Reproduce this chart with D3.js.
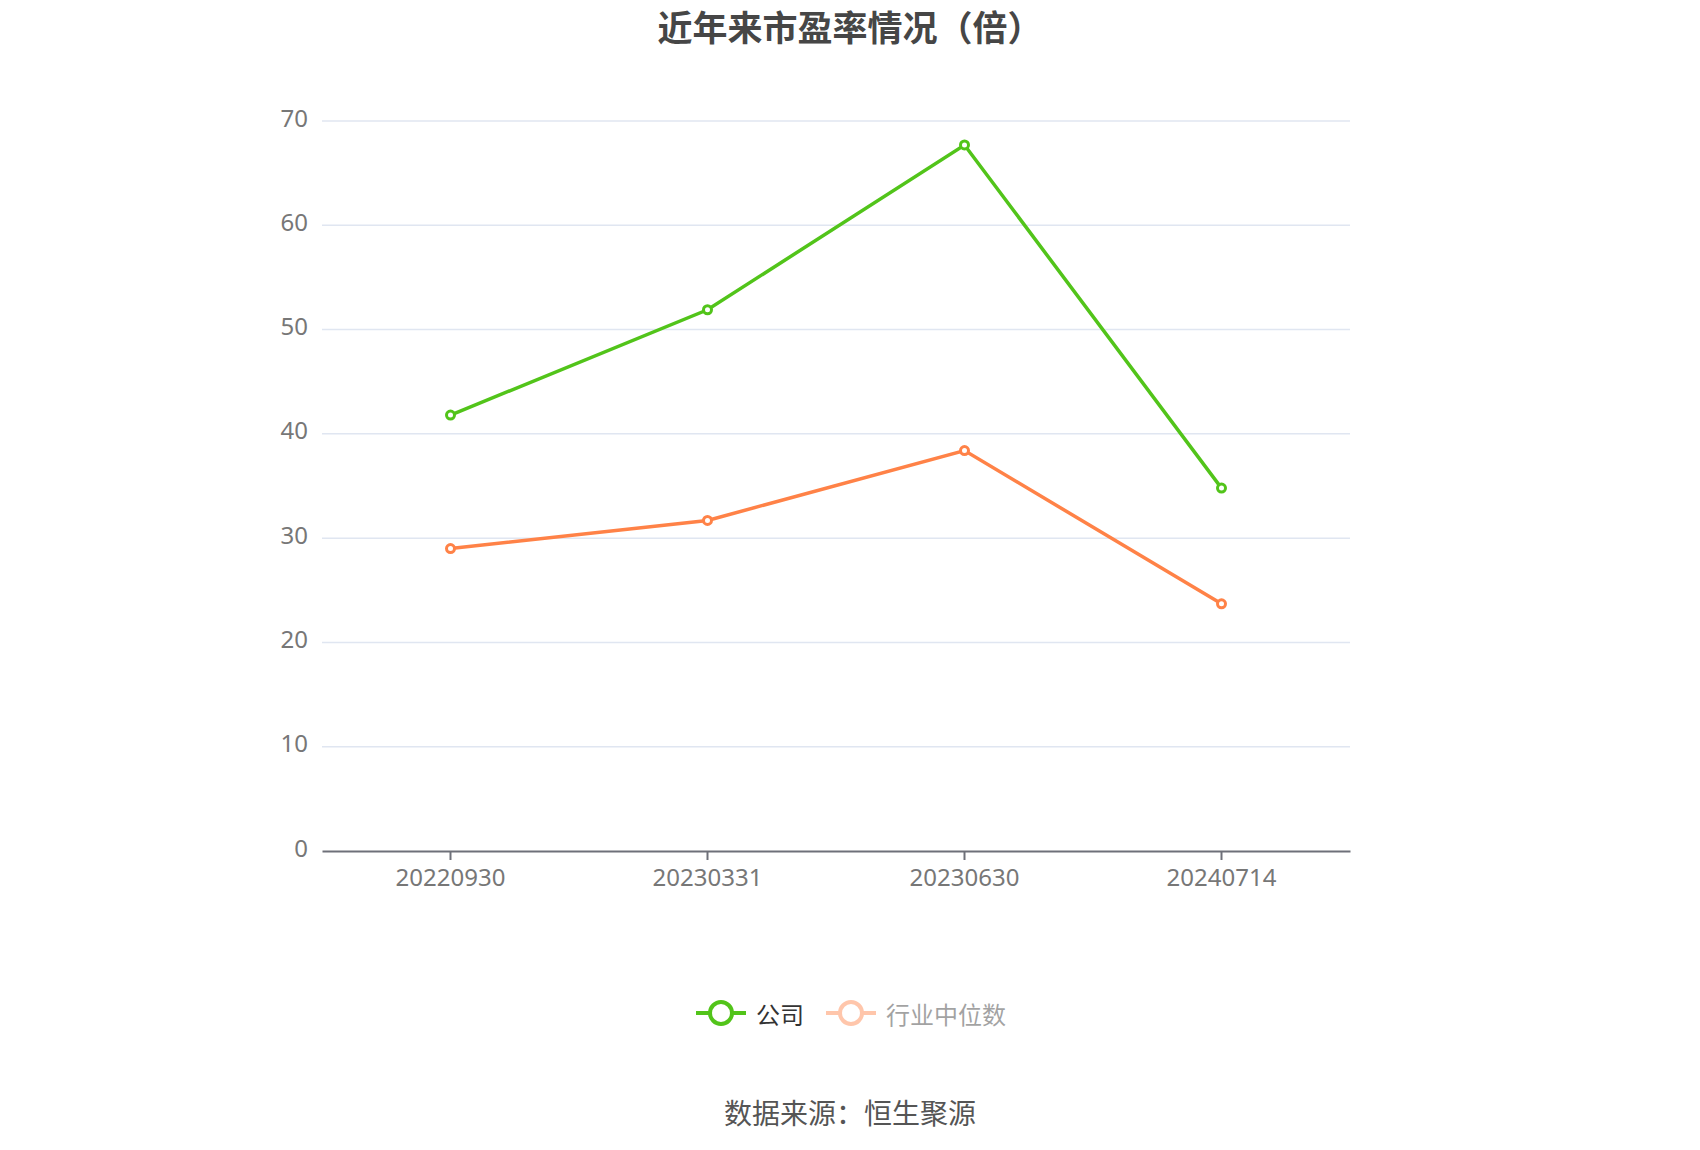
<!DOCTYPE html>
<html>
<head>
<meta charset="utf-8">
<script src="https://cdn.jsdelivr.net/npm/d3@7/dist/d3.min.js"></script>
<style>
  body { margin: 0; background: #fff; }
  svg { display: block; font-family: "Noto Sans", "Noto Sans CJK SC", sans-serif; }
</style>
</head>
<body>
<div id="chart"></div>
<script>
// data
const categories = ["20220930", "20230331", "20230630", "20240714"];
const companyPE = [41.8, 51.9, 67.7, 34.8];
const industryPE = [29.0, 31.7, 38.4, 23.7];
const yTicks = [0, 10, 20, 30, 40, 50, 60, 70];
const seriesNames = ["公司", "行业中位数"];

const width = 1700, height = 1150;
const margin = { left: 322, right: 350, top: 121, bottom: 299 };

const svg = d3.select("#chart").append("svg")
    .attr("width", width)
    .attr("height", height);

// title
svg.append("text")
    .attr("x", width / 2)
    .attr("y", 25)
    .attr("text-anchor", "middle")
    .attr("dominant-baseline", "central")
    .style("font-family", "'Noto Sans CJK SC', sans-serif")
    .style("font-size", "35px")
    .style("font-weight", "bold")
    .style("fill", "#464646")
    .text("近年来市盈率情况（倍）");

let x = d3.scaleBand()
    .domain(categories)
    .range([margin.left, width - margin.right]);
let y = d3.scaleLinear()
    .domain([0, 70])
    .range([height - margin.bottom, margin.top]);

// grid lines
svg.append("g").selectAll("line")
    .data(yTicks.filter(d => d > 0))
    .enter()
    .append("line")
    .attr("x1", margin.left)
    .attr("x2", width - margin.right)
    .attr("y1", d => y(d))
    .attr("y2", d => y(d))
    .style("stroke", "#E0E6F1")
    .style("stroke-width", 1.5);

// y labels
svg.append("g").selectAll("text")
    .data(yTicks)
    .enter()
    .append("text")
    .attr("x", margin.left - 14)
    .attr("y", d => y(d) - 4)
    .attr("text-anchor", "end")
    .attr("dominant-baseline", "central")
    .style("font-size", "24px")
    .style("fill", "#777")
    .text(d => d);

// x axis
let xAxis = svg.append("g")
    .attr("transform", "translate(0," + y(0) + ")")
    .call(d3.axisBottom(x).tickSizeOuter(0).tickSizeInner(9).tickPadding(9));
xAxis.select(".domain").style("stroke", "#6E7079").style("stroke-width", 2);
xAxis.selectAll(".tick line").style("stroke", "#6E7079").style("stroke-width", 2);
xAxis.selectAll(".tick text")
    .style("font-family", "'Noto Sans', sans-serif")
    .style("font-size", "24px")
    .style("fill", "#777");

// series
const cx = d => x(d) + x.bandwidth() / 2;
const series = [
    { name: seriesNames[0], values: companyPE, color: "#52C41A" },
    { name: seriesNames[1], values: industryPE, color: "#FF8247" }
];

series.forEach(s => {
    let line = d3.line()
        .x((d, i) => cx(categories[i]))
        .y(d => y(d));
    svg.append("path")
        .datum(s.values)
        .attr("d", line)
        .style("fill", "none")
        .style("stroke", s.color)
        .style("stroke-width", 3.5);

    svg.append("g").selectAll("circle")
        .data(s.values)
        .enter()
        .append("circle")
        .attr("cx", (d, i) => cx(categories[i]))
        .attr("cy", d => y(d))
        .attr("r", 4)
        .style("fill", "#fff")
        .style("stroke", s.color)
        .style("stroke-width", 3);
});

// legend
let legendY = 1013;
let legendX = [696, 826];
series.forEach((s, i) => {
    let g = svg.append("g")
        .attr("transform", "translate(" + legendX[i] + "," + legendY + ")")
        .style("opacity", i == 0 ? 1 : 0.45);
    g.append("line")
        .attr("x1", 0).attr("x2", 50)
        .attr("y1", 0).attr("y2", 0)
        .style("stroke", s.color)
        .style("stroke-width", 4);
    g.append("circle")
        .attr("cx", 25).attr("cy", 0)
        .attr("r", 11)
        .style("fill", "#fff")
        .style("stroke", s.color)
        .style("stroke-width", 4);
    g.append("text")
        .attr("x", 60)
        .attr("y", 0)
        .attr("dominant-baseline", "central")
        .style("font-family", "'Noto Sans CJK SC', sans-serif")
        .style("font-size", "24px")
        .style("fill", "#333")
        .text(s.name);
});

// source
svg.append("text")
    .attr("x", width / 2)
    .attr("y", 1112)
    .attr("text-anchor", "middle")
    .attr("dominant-baseline", "central")
    .style("font-family", "'Noto Sans CJK SC', sans-serif")
    .style("font-size", "28px")
    .style("fill", "#555")
    .text("数据来源：恒生聚源");
</script>
</body>
</html>
